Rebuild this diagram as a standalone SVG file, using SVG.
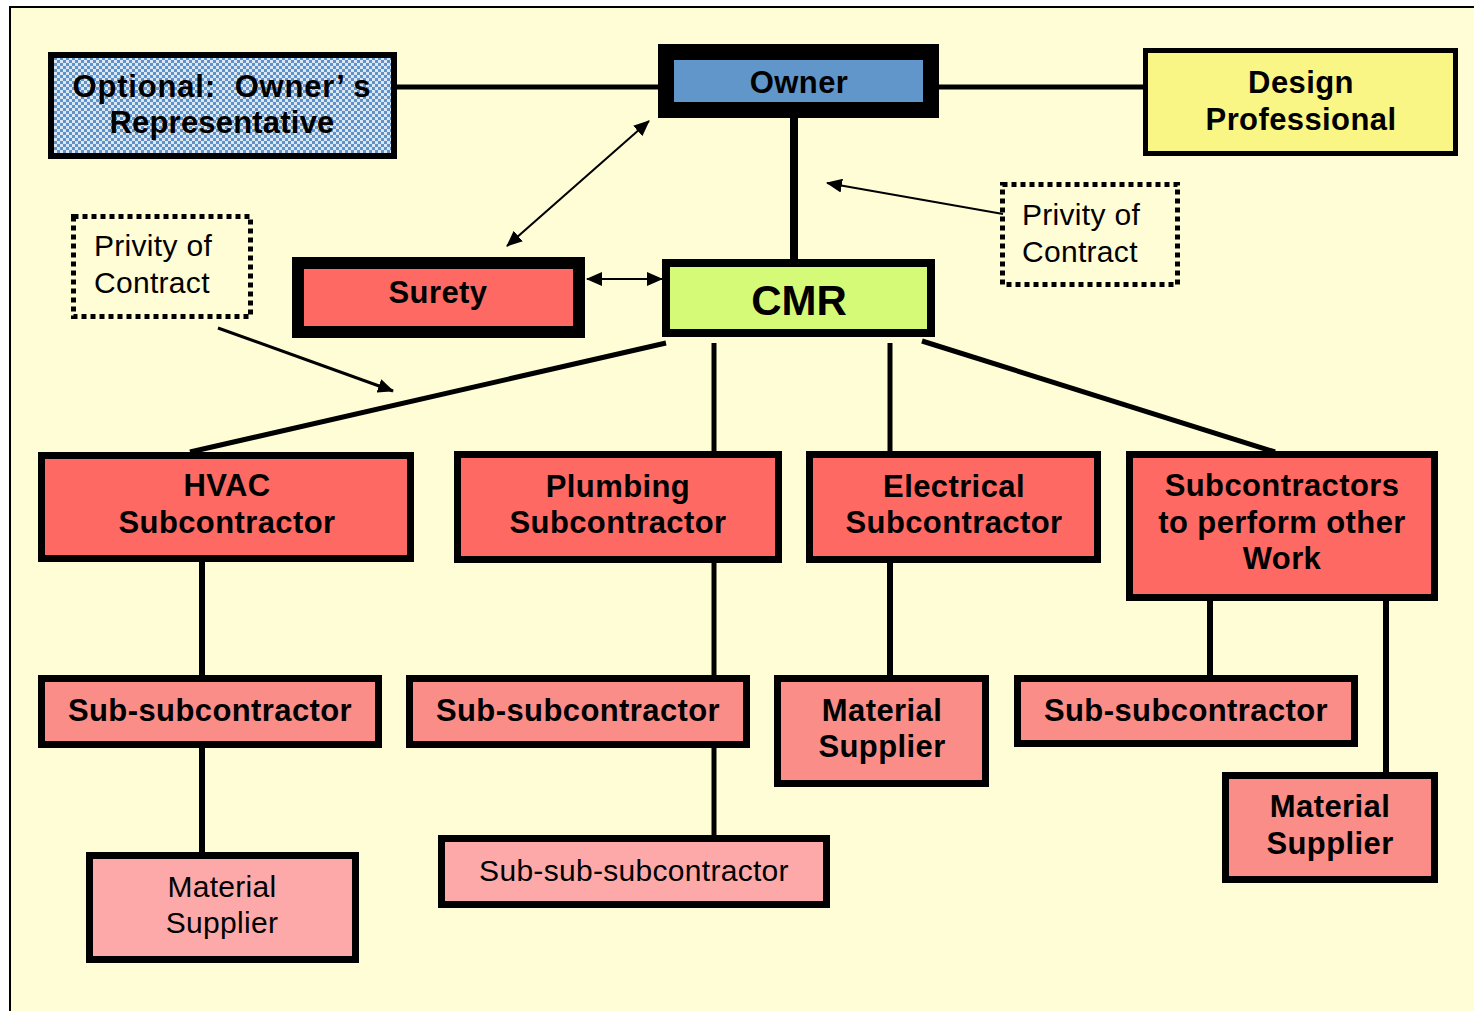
<svg xmlns="http://www.w3.org/2000/svg" width="1474" height="1011" viewBox="0 0 1474 1011">
<defs>
<pattern id="chk" width="6" height="6" patternUnits="userSpaceOnUse">
<rect width="6" height="6" fill="#5E92CA"/>
<rect width="3" height="3" fill="#DCE7F4"/>
<rect x="3" y="3" width="3" height="3" fill="#DCE7F4"/>
</pattern>
<marker id="ah" markerUnits="userSpaceOnUse" markerWidth="16" markerHeight="14" refX="15" refY="7" orient="auto-start-reverse">
<path d="M0,0 L16,7 L0,14 Z" fill="#000"/>
</marker>
</defs>
<style>
.b{stroke:#000;}
.t{font-family:"Liberation Sans",Arial,sans-serif;fill:#000;text-anchor:middle;}
.bd{font-weight:bold;font-size:31px;letter-spacing:0.4px;}
.nm{font-size:30px;letter-spacing:0.3px;}
.ln{stroke:#000;fill:none;}
.dot{fill:none;stroke:#000;stroke-width:5;stroke-dasharray:5 4;}
.l1{fill:#FE6A63;}
.l2{fill:#FB8D88;}
.l3{fill:#FDA9A9;}
</style>
<rect x="0" y="0" width="1474" height="1011" fill="#fff"/>
<rect x="11" y="8" width="1463" height="1003" fill="#FFFDD6"/>
<line x1="9" y1="7" x2="1474" y2="7" stroke="#000" stroke-width="2"/>
<line x1="10" y1="6" x2="10" y2="1011" stroke="#000" stroke-width="2"/>

<g id="connectors">
<line class="ln" x1="397" y1="87" x2="658" y2="87" stroke-width="5"/>
<line class="ln" x1="939" y1="87" x2="1143" y2="87" stroke-width="5"/>
<line class="ln" x1="794" y1="118" x2="794" y2="259" stroke-width="8"/>
<line class="ln" x1="666" y1="343" x2="190" y2="452" stroke-width="5"/>
<line class="ln" x1="714" y1="343" x2="714" y2="451" stroke-width="5"/>
<line class="ln" x1="890" y1="343" x2="890" y2="451" stroke-width="5"/>
<line class="ln" x1="922" y1="341" x2="1275" y2="452" stroke-width="5"/>
<line class="ln" x1="202" y1="562" x2="202" y2="675" stroke-width="6"/>
<line class="ln" x1="202" y1="748" x2="202" y2="852" stroke-width="6"/>
<line class="ln" x1="714" y1="563" x2="714" y2="675" stroke-width="5"/>
<line class="ln" x1="714" y1="748" x2="714" y2="835" stroke-width="5"/>
<line class="ln" x1="890" y1="563" x2="890" y2="675" stroke-width="6"/>
<line class="ln" x1="1210" y1="601" x2="1210" y2="675" stroke-width="6"/>
<line class="ln" x1="1386" y1="601" x2="1386" y2="772" stroke-width="6"/>
<line class="ln" x1="587" y1="279" x2="662" y2="279" stroke-width="2" marker-start="url(#ah)" marker-end="url(#ah)"/>
<line class="ln" x1="649" y1="121" x2="507" y2="246" stroke-width="2" marker-start="url(#ah)" marker-end="url(#ah)"/>
<line class="ln" x1="218" y1="328" x2="393" y2="391" stroke-width="3" marker-end="url(#ah)"/>
<line class="ln" x1="1003" y1="214" x2="827" y2="183" stroke-width="2" marker-end="url(#ah)"/>
</g>

<g id="owners-rep">
<rect x="51" y="55" width="343" height="101" fill="url(#chk)" class="b" stroke-width="6"/>
<text class="t bd" x="222" y="97" xml:space="preserve" style="letter-spacing:0.8px">Optional:  Owner’ s</text>
<text class="t bd" x="222" y="133" style="letter-spacing:0.2px">Representative</text>
</g>
<g id="owner">
<rect x="666" y="52" width="265" height="58" fill="#6096CA" class="b" stroke-width="16"/>
<text class="t bd" x="799" y="93">Owner</text>
</g>
<g id="design">
<rect x="1145.5" y="50.5" width="310" height="103" fill="#FAF685" class="b" stroke-width="5"/>
<text class="t bd" x="1301" y="93">Design</text>
<text class="t bd" x="1301" y="130">Professional</text>
</g>
<g id="cmr">
<rect x="666" y="263" width="265" height="70" fill="#D5FA78" class="b" stroke-width="8"/>
<text class="t" x="799" y="315" font-weight="bold" font-size="42">CMR</text>
</g>
<g id="surety">
<rect x="298" y="263" width="281" height="69" class="b l1" stroke-width="12"/>
<text class="t bd" x="438" y="303">Surety</text>
</g>
<g id="privity-left">
<rect x="73.5" y="216.5" width="177" height="100" class="dot"/>
<text class="t nm" x="94" y="256" style="text-anchor:start">Privity of</text>
<text class="t nm" x="94" y="293" style="text-anchor:start">Contract</text>
</g>
<g id="privity-right">
<rect x="1002.5" y="184.5" width="175" height="100" class="dot"/>
<text class="t nm" x="1022" y="225" style="text-anchor:start">Privity of</text>
<text class="t nm" x="1022" y="262" style="text-anchor:start">Contract</text>
</g>
<g id="hvac">
<rect x="41.5" y="455.5" width="369" height="103" class="b l1" stroke-width="7"/>
<text class="t bd" x="227" y="496">HVAC</text>
<text class="t bd" x="227" y="533">Subcontractor</text>
</g>
<g id="plumbing">
<rect x="457.5" y="454.5" width="321" height="105" class="b l1" stroke-width="7"/>
<text class="t bd" x="618" y="497">Plumbing</text>
<text class="t bd" x="618" y="533">Subcontractor</text>
</g>
<g id="electrical">
<rect x="809.5" y="454.5" width="288" height="105" class="b l1" stroke-width="7"/>
<text class="t bd" x="954" y="497">Electrical</text>
<text class="t bd" x="954" y="533">Subcontractor</text>
</g>
<g id="other">
<rect x="1129.5" y="454.5" width="305" height="143" class="b l1" stroke-width="7"/>
<text class="t bd" x="1282" y="496">Subcontractors</text>
<text class="t bd" x="1282" y="533">to perform other</text>
<text class="t bd" x="1282" y="569">Work</text>
</g>
<g id="hvac-sub">
<rect x="41.5" y="678.5" width="337" height="66" class="b l2" stroke-width="7"/>
<text class="t bd" x="210" y="721">Sub-subcontractor</text>
</g>
<g id="plumbing-sub">
<rect x="409.5" y="678.5" width="337" height="66" class="b l2" stroke-width="7"/>
<text class="t bd" x="578" y="721">Sub-subcontractor</text>
</g>
<g id="electrical-material">
<rect x="777.5" y="678.5" width="208" height="105" class="b l2" stroke-width="7"/>
<text class="t bd" x="882" y="721">Material</text>
<text class="t bd" x="882" y="757">Supplier</text>
</g>
<g id="other-sub">
<rect x="1017.5" y="678.5" width="337" height="65" class="b l2" stroke-width="7"/>
<text class="t bd" x="1186" y="721">Sub-subcontractor</text>
</g>
<g id="other-material">
<rect x="1225.5" y="775.5" width="209" height="104" class="b l2" stroke-width="7"/>
<text class="t bd" x="1330" y="817">Material</text>
<text class="t bd" x="1330" y="854">Supplier</text>
</g>
<g id="hvac-material">
<rect x="89.5" y="855.5" width="266" height="104" class="b l3" stroke-width="7"/>
<text class="t nm" x="222" y="897">Material</text>
<text class="t nm" x="222" y="933">Supplier</text>
</g>
<g id="sub-sub-sub">
<rect x="441.5" y="838.5" width="385" height="66" class="b l3" stroke-width="7"/>
<text class="t nm" x="634" y="881">Sub-sub-subcontractor</text>
</g>
</svg>
